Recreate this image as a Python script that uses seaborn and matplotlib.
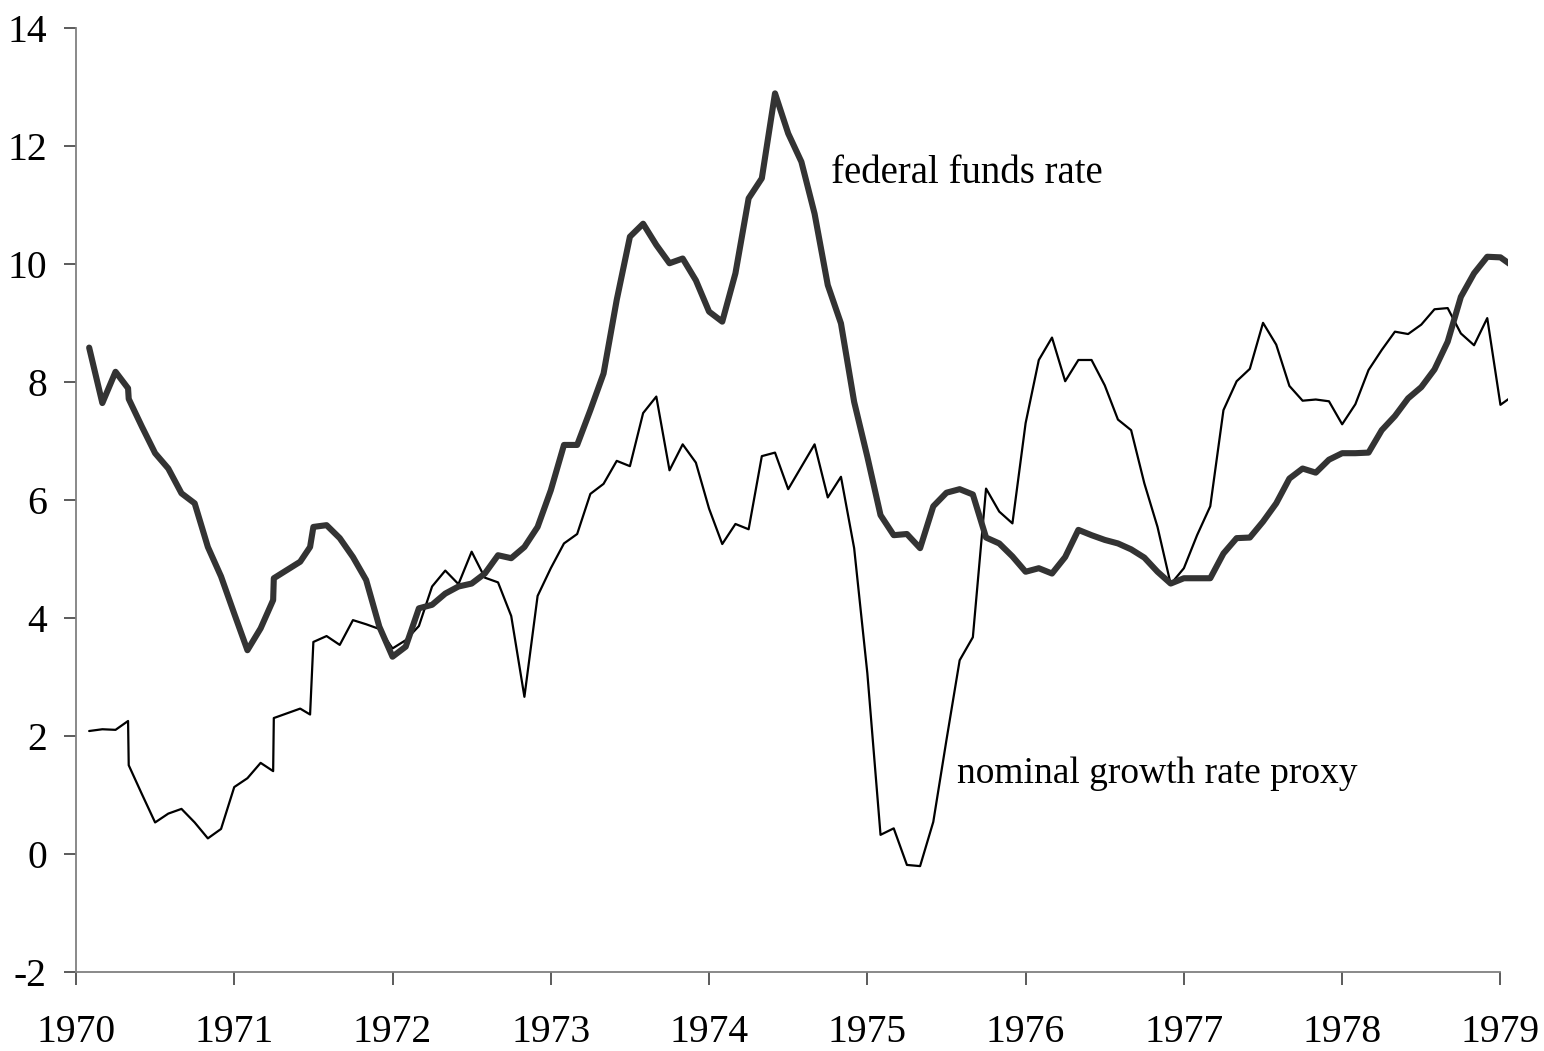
import numpy as np
import pandas as pd
import seaborn as sns
import matplotlib.pyplot as plt

# month offsets from Jan 1970 (a few months carry two readings)
months = [1, 2, 3, 3.95, 4, 5, 6, 7, 8, 9, 10, 11,
          12, 13, 14, 14.95, 15, 16, 17, 17.75, 18, 19, 20, 21, 22, 23,
          24, 25, 26, 27, 28, 29, 30, 31, 32, 33, 34, 35,
          36, 37, 38, 39, 40, 41, 42, 43, 44, 45, 46, 47,
          48, 49, 50, 51, 52, 53, 54, 55, 56, 57, 58, 59,
          60, 61, 62, 63, 64, 65, 66, 67, 68, 69, 70, 71,
          72, 73, 74, 75, 76, 77, 78, 79, 80, 81, 82, 83,
          84, 85, 86, 87, 88, 89, 90, 91, 92, 93, 94, 95,
          96, 97, 98, 99, 100, 101, 102, 103, 104, 105, 106, 107,
          108, 109]

fed_funds = [8.59, 7.65, 8.18, 7.90, 7.72, 7.25, 6.80, 6.54, 6.12, 5.95, 5.21, 4.71,
             4.08, 3.46, 3.83, 4.31, 4.68, 4.82, 4.96, 5.21, 5.55, 5.58, 5.36, 5.04, 4.65, 3.86,
             3.35, 3.52, 4.17, 4.23, 4.42, 4.54, 4.59, 4.76, 5.07, 5.02, 5.21, 5.55,
             6.17, 6.94, 6.94, 7.53, 8.15, 9.40, 10.47, 10.69, 10.33, 10.02, 10.10, 9.73,
             9.20, 9.03, 9.85, 11.12, 11.46, 12.90, 12.22, 11.74, 10.86, 9.65, 9.00, 7.67,
             6.74, 5.75, 5.41, 5.43, 5.19, 5.90, 6.13, 6.19, 6.10, 5.37, 5.27, 5.05,
             4.79, 4.85, 4.76, 5.04, 5.50, 5.41, 5.33, 5.27, 5.17, 5.03, 4.79, 4.59,
             4.68, 4.68, 4.68, 5.10, 5.36, 5.37, 5.64, 5.95, 6.37, 6.54, 6.47, 6.69,
             6.80, 6.80, 6.81, 7.19, 7.43, 7.73, 7.92, 8.22, 8.69, 9.45, 9.85, 10.13,
             10.12, 9.96]

growth_proxy = [2.09, 2.12, 2.11, 2.26, 1.51, 1.02, 0.54, 0.69, 0.77, 0.54, 0.27, 0.43,
                1.14, 1.29, 1.55, 1.41, 2.31, 2.39, 2.47, 2.37, 3.60, 3.70, 3.55, 3.97, 3.90, 3.82,
                3.49, 3.63, 3.87, 4.54, 4.81, 4.58, 5.13, 4.69, 4.61, 4.04, 2.67, 4.38,
                4.85, 5.27, 5.43, 6.11, 6.28, 6.67, 6.58, 7.48, 7.76, 6.51, 6.95, 6.64,
                5.86, 5.26, 5.60, 5.51, 6.75, 6.81, 6.19, 6.57, 6.95, 6.05, 6.40, 5.19,
                3.07, 0.33, 0.44, -0.18, -0.20, 0.55, 1.94, 3.29, 3.68, 6.20, 5.81, 5.61,
                7.31, 8.38, 8.76, 8.02, 8.38, 8.38, 7.95, 7.37, 7.19, 6.29, 5.55, 4.58,
                4.85, 5.41, 5.90, 7.53, 8.02, 8.23, 9.01, 8.64, 7.94, 7.69, 7.71, 7.68,
                7.29, 7.63, 8.21, 8.55, 8.86, 8.82, 8.98, 9.24, 9.26, 8.83, 8.63, 9.09,
                7.62, 7.78]

year_ticks = [1970, 1971, 1972, 1973, 1974, 1975, 1976, 1977, 1978, 1979]
y_ticks = [-2, 0, 2, 4, 6, 8, 10, 12, 14]

sns.set_style('ticks')
plt.rcParams['font.family'] = ['Liberation Serif', 'DejaVu Serif']
plt.rcParams['axes.unicode_minus'] = False
plt.rcParams['text.color'] = 'black'
plt.rcParams['xtick.labelcolor'] = 'black'
plt.rcParams['ytick.labelcolor'] = 'black'

df = pd.DataFrame({'date': 1970 + np.array(months) / 12,
                   'fed': fed_funds, 'proxy': growth_proxy})

fig = plt.figure(figsize=(15.44, 10.51), dpi=100)
ax = fig.add_axes([0.0492, 0.0749, 0.9272, 0.898])

sns.lineplot(data=df, x='date', y='proxy', ax=ax, color='black', linewidth=1.6,
             estimator=None, sort=False)
sns.lineplot(data=df, x='date', y='fed', ax=ax, color='#333333', linewidth=4.4,
             estimator=None, sort=False, solid_joinstyle='round')

ax.set_xlim(1970, 1979.045)
ax.set_ylim(-2, 14)
ax.set_xticks(year_ticks)
ax.set_yticks(y_ticks)
ax.set_xlabel('')
ax.set_ylabel('')
ax.tick_params(axis='both', labelsize=28.5, length=9, width=1.2, color='#404040',
               labelcolor='black')
ax.tick_params(axis='x', pad=21)
ax.tick_params(axis='y', pad=12)
for s in ['top', 'right']:
    ax.spines[s].set_visible(False)
for s in ['left', 'bottom']:
    ax.spines[s].set_color('#808080')
    ax.spines[s].set_linewidth(1.3)
ax.spines['bottom'].set_bounds(1970, 1979)

ax.text(1974.77, 11.38, 'federal funds rate', fontsize=28, va='baseline', ha='left',
        color='black')
ax.text(1975.565, 1.21, 'nominal growth rate proxy', fontsize=27, va='baseline', ha='left',
        color='black')

fig.savefig('out.png', dpi=100)
